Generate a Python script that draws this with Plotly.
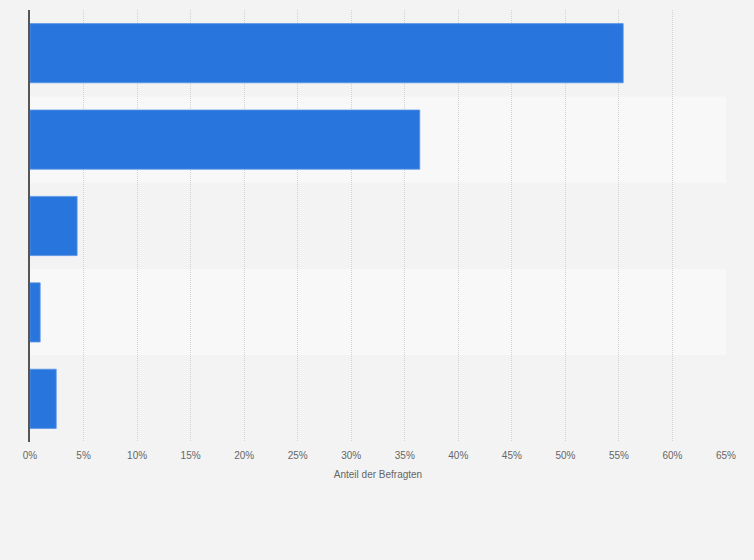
import plotly.graph_objects as go

categories = ["Kategorie A", "Kategorie B", "Kategorie C", "Kategorie D", "Kategorie E"]
values = [55.4, 36.4, 4.4, 0.95, 2.45]
tick_vals = [0, 5, 10, 15, 20, 25, 30, 35, 40, 45, 50, 55, 60, 65]
tick_text = [f"{v}%" for v in tick_vals]
x_title = "Anteil der Befragten"

BG = "#f3f3f3"
BAND_LIGHT = "#f8f8f8"
BAR = "#2876dd"

fig = go.Figure()
fig.add_trace(go.Bar(
    x=values, y=categories, orientation="h",
    marker=dict(color=BAR, line=dict(color="#5b96e6", width=0.8)),
    hoverinfo="x+y",
))

shapes = []
for i, c in enumerate(categories):
    shapes.append(dict(
        type="rect", xref="paper", yref="y", layer="below",
        x0=0, x1=1, y0=i - 0.5, y1=i + 0.5,
        fillcolor=BG if i % 2 == 0 else BAND_LIGHT, line=dict(width=0),
    ))

fig.update_layout(
    width=754, height=560,
    margin=dict(l=30, r=28, t=10, b=118),
    paper_bgcolor=BG, plot_bgcolor=BG,
    bargap=0.315,
    shapes=shapes,
    showlegend=False,
    font=dict(family="Liberation Sans, Arial, sans-serif", size=10, color="#666666"),
    xaxis=dict(
        range=[0, 65], tickvals=tick_vals, ticktext=tick_text,
        showgrid=True, gridcolor="#d2d2d2", griddash="1px,1px", gridwidth=1,
        zeroline=False, showline=False, ticks="",
        tickfont=dict(size=10, color="#666666"),
        ticklabelstandoff=6,
        title=dict(text=x_title, font=dict(size=10, color="#666666"), standoff=10),
        fixedrange=True,
    ),
    yaxis=dict(
        autorange="reversed", showticklabels=False, showgrid=False,
        zeroline=False, showline=True, linecolor="#555555", linewidth=1.5,
        ticks="", fixedrange=True,
    ),
)

fig.write_html(
    "out.html",
    config={"displayModeBar": False},
    post_script="document.body.style.margin='0';document.body.style.background='#f3f3f3';",
)
